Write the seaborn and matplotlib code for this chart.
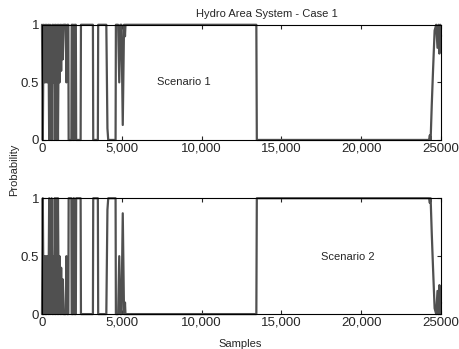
import pandas as pd
import seaborn as sns
import matplotlib.pyplot as plt

# ── DATA ───────────────────────────────────────────────
samples = [0, 50, 100, 150, 200, 250, 300, 350, 400, 450,
           500, 550, 600, 650, 700, 750, 800, 850, 900, 950,
           1000, 1050, 1100, 1150, 1200, 1250, 1300, 1350,
           1480, 1530, 1580, 1650, 1670, 1840, 1860, 1960,
           1980, 2000, 2040, 2120, 2140, 2420, 2440, 3190,
           3210, 3500, 3520, 4030, 4100, 4150, 4610, 4630,
           4770, 4840, 4910, 4980, 5060, 5140, 5170, 5200,
           5230, 13430, 13460, 24250, 24300, 24350, 24420, 24500,
           24600, 24700, 24780, 24850, 24900, 24950, 25000]

scenario1 = [1, 0, 1, 0.5, 1, 0.5, 1, 0.5, 1, 0,
             1, 0.5, 0, 1, 0.5, 1, 0, 1, 0, 1,
             0, 1, 0.5, 1, 0.6, 1, 0.7, 1,
             1, 0.5, 1, 1, 0, 0, 1, 1,
             0, 0, 1, 1, 0, 0, 1, 1,
             0, 0, 1, 1, 0.1, 0, 0, 1,
             1, 0.5, 1, 1, 0.13, 1, 1, 0.9,
             1, 1, 0, 0, 0.04, 0, 0.3, 0.6,
             0.95, 1, 0.8, 1, 0.75, 1, 0.9]

scenario2 = [0, 1, 0, 0.5, 0, 0.5, 0, 0.5, 0, 1,
             0, 0.5, 1, 0, 0.5, 0, 1, 0, 1, 0,
             1, 0, 0.5, 0, 0.4, 0, 0.3, 0,
             0, 0.5, 0, 0, 1, 1, 0, 0,
             1, 1, 0, 0, 1, 1, 0, 0,
             1, 1, 0, 0, 0.9, 1, 1, 0,
             0, 0.5, 0, 0, 0.87, 0, 0, 0.1,
             0, 0, 1, 1, 0.96, 1, 0.7, 0.4,
             0.05, 0, 0.2, 0, 0.25, 0, 0.1]

xtick_vals = [0, 5000, 10000, 15000, 20000, 25000]
xtick_labels = ["0", "5,000", "10,000", "15,000", "20,000", "25000"]
ytick_vals = [0, 0.5, 1]
ytick_labels = ["0", "0.5", "1"]

df = pd.DataFrame({"sample": samples, "s1": scenario1, "s2": scenario2})

# ── STYLE ──────────────────────────────────────────────
sns.set_style("white")
plt.rcParams["font.family"] = ["Liberation Sans", "DejaVu Sans"]

fig = plt.figure(figsize=(4.6, 3.49), dpi=100)
ax1 = fig.add_axes([0.0913, 0.599, 0.8674, 0.33])
ax2 = fig.add_axes([0.0913, 0.100, 0.8674, 0.332])

line_color = "#505050"

for ax, col, label, pos in [(ax1, "s1", "Scenario 1", (8875, 0.50)),
                            (ax2, "s2", "Scenario 2", (19190, 0.49))]:
    sns.lineplot(data=df, x="sample", y=col, ax=ax, color=line_color,
                 linewidth=1.6, estimator=None, sort=False, clip_on=False)
    ax.set_xlim(0, 25000)
    ax.set_ylim(0, 1)
    ax.set_xticks(xtick_vals)
    ax.set_xticklabels(xtick_labels)
    ax.set_yticks(ytick_vals)
    ax.set_yticklabels(ytick_labels)
    ax.tick_params(direction="in", length=3, width=0.8, labelsize=9.5,
                   top=True, right=True, bottom=True, left=True, pad=2)
    for sp in ax.spines.values():
        sp.set_visible(True)
        sp.set_color("black")
        sp.set_linewidth(0.8)
    ax.set_xlabel("")
    ax.set_ylabel("")
    ax.text(pos[0], pos[1], label, fontsize=8, ha="center", va="center")

fig.text(0.58, 0.96, "Hydro Area System - Case 1", fontsize=8,
         ha="center", va="center")
fig.text(0.03, 0.513, "Probability", fontsize=8, rotation=90,
         ha="center", va="center")
fig.text(0.522, 0.013, "Samples", fontsize=8, ha="center", va="center")

plt.savefig("out.png", dpi=100)
